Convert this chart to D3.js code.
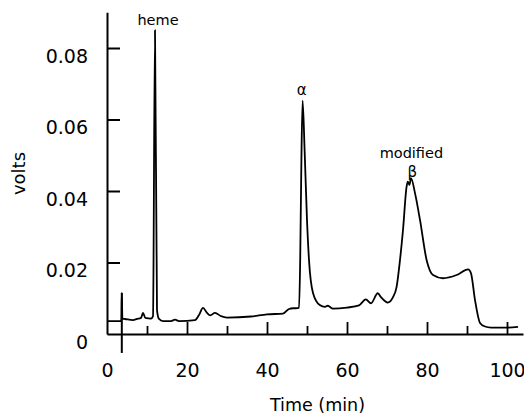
<!DOCTYPE html>
<html>
<head>
<meta charset="utf-8" />
<title>HPLC trace</title>
<script src="https://cdn.jsdelivr.net/npm/d3@7/dist/d3.min.js"></script>
<style>
body { margin: 0; background: #fff; }
text { font-family: "DejaVu Sans", sans-serif; fill: #000; }
</style>
</head>
<body>
<svg width="524" height="414"></svg>
<script>

// time (min) and detector signal (volts)
var v_Time  = [0, 3.5, 3.6, 3.7, 3.85, 4.5, 6.5, 7.5, 8.5, 9, 9.6, 11, 11.5, 12, 12.5, 13, 14, 16, 17, 18,
               22, 23, 24, 25, 25.8, 27, 28.5, 30, 36, 40, 44, 45.5, 46.5, 47.2, 48, 48.3, 48.6, 48.9, 49.4,
               50, 50.5, 51.5, 53.2, 54.5, 55.2, 56.5, 60, 63, 64.7, 66, 67.7, 68.5, 70.2, 71.5, 72.4, 73.25,
               74, 74.9, 75.2, 75.6, 76, 77, 78.25, 79.9, 81.5, 84, 87.4, 90.3, 91, 92, 93.25, 94.5, 96, 100, 102.75];
var v_Volts = [0.0036, 0.0036, 0.0042, 0.0115, 0.0043, 0.0042, 0.0039, 0.0042, 0.0045, 0.0059, 0.0045, 0.0043, 0.0050, 0.0850, 0.0067, 0.0042, 0.0036, 0.0036, 0.0040, 0.0036,
               0.0039, 0.0053, 0.0073, 0.0059, 0.0052, 0.0059, 0.0050, 0.0046, 0.0049, 0.0055, 0.0057, 0.0070, 0.0072, 0.0072, 0.0073, 0.0207, 0.0487, 0.0653, 0.0515,
               0.0319, 0.0207, 0.0115, 0.0081, 0.0076, 0.0079, 0.0071, 0.0074, 0.0080, 0.0097, 0.0086, 0.0114, 0.0103, 0.0088, 0.0103, 0.0132, 0.0207,
               0.0291, 0.0412, 0.0426, 0.0417, 0.0436, 0.0394, 0.0319, 0.0207, 0.0165, 0.0156, 0.0165, 0.0181, 0.0170, 0.0095, 0.0031, 0.0021, 0.0018, 0.0018, 0.0020];

// injection mark: time, bottom and top of the stroke (volts)
var v_Inject = [3.7, -0.0053, 0.0115];

var v_XTicks  = [0, 10, 20, 30, 40, 50, 60, 70, 80, 90, 100];
var v_YTicks  = [0.02, 0.04, 0.06, 0.08];
var v_YLabels = ["0", "0.02", "0.04", "0.06", "0.08"];

// peak labels: text, time, volts (baseline)
var v_PeakText  = ["heme", "\u03b1", "modified", "\u03b2"];
var v_PeakTime  = [12.75, 48.7, 76.1, 76.3];
var v_PeakVolts = [0.0864, 0.0669, 0.0492, 0.0440];

var v_SVG = d3.select("svg");
var x = d3.scaleLinear().domain([0, 104]).range([107, 523]);
var y = d3.scaleLinear().domain([0, 0.09]).range([334, 12.25]);

// y axis, ticks pointing inward, labels hanging below the tick
var v_YAxis = v_SVG.append("g")
.attr("transform", "translate(" + x(0) + ",0)")
.call(d3.axisLeft(y).tickValues([0].concat(v_YTicks)).tickSizeInner(-13).tickSizeOuter(0).tickPadding(19)
      .tickFormat(function(d, i) { return v_YLabels[i]; }));
v_YAxis.select(".domain").attr("stroke-width", 2);
v_YAxis.selectAll(".tick line").attr("stroke-width", 2)
.attr("display", function(d) { return d === 0 ? "none" : null; });
v_YAxis.selectAll(".tick text").attr("font-size", 19).attr("dy", "0.74em").attr("font-family", null);

// x axis, alternating short / long inward ticks
var v_XAxis = v_SVG.append("g")
.attr("transform", "translate(0," + y(0) + ")")
.call(d3.axisBottom(x).tickValues(v_XTicks).tickSizeInner(-8).tickSizeOuter(0)
      .tickFormat(function(d) { return d % 20 === 0 ? d : ""; }));
v_XAxis.select(".domain").attr("stroke-width", 2);
v_XAxis.selectAll(".tick line").attr("stroke-width", 1.8)
.attr("y2", function(d) { return d === 0 ? 0 : (d % 20 === 0 ? -12 : -8); });
v_XAxis.selectAll(".tick text").attr("font-size", 19).attr("y", 43).attr("dy", 0).attr("font-family", null);

// axis titles
v_SVG.append("text")
.attr("transform", "translate(25,173.5) rotate(-90)")
.attr("text-anchor", "middle")
.attr("font-size", 18)
.text("volts");

v_SVG.append("text")
.attr("x", 317.5)
.attr("y", 410.5)
.attr("text-anchor", "middle")
.attr("font-size", 17.5)
.text("Time (min)");

// trace
var v_Points = v_Time.map(function(t, i) { return [t, v_Volts[i]]; });
var v_Line = d3.line()
.x(function(d) { return x(d[0]); })
.y(function(d) { return y(d[1]); })
.curve(d3.curveMonotoneX);

v_SVG.append("path")
.datum(v_Points)
.attr("fill", "none")
.attr("stroke", "#000")
.attr("stroke-width", 1.8)
.attr("stroke-linejoin", "round")
.attr("d", v_Line);

// injection mark
v_SVG.append("line")
.attr("x1", x(v_Inject[0])).attr("x2", x(v_Inject[0]))
.attr("y1", y(v_Inject[1])).attr("y2", y(v_Inject[2]))
.attr("stroke", "#000")
.attr("stroke-width", 2);

// peak labels
v_SVG.selectAll(".peak")
.data(v_PeakText)
.enter().append("text")
.attr("class", "peak")
.attr("x", function(d, i) { return x(v_PeakTime[i]); })
.attr("y", function(d, i) { return y(v_PeakVolts[i]); })
.attr("text-anchor", "middle")
.attr("font-size", function(d) { return d.length > 1 ? 14.5 : 15; })
.text(function(d) { return d; });

</script>
</body>
</html>
